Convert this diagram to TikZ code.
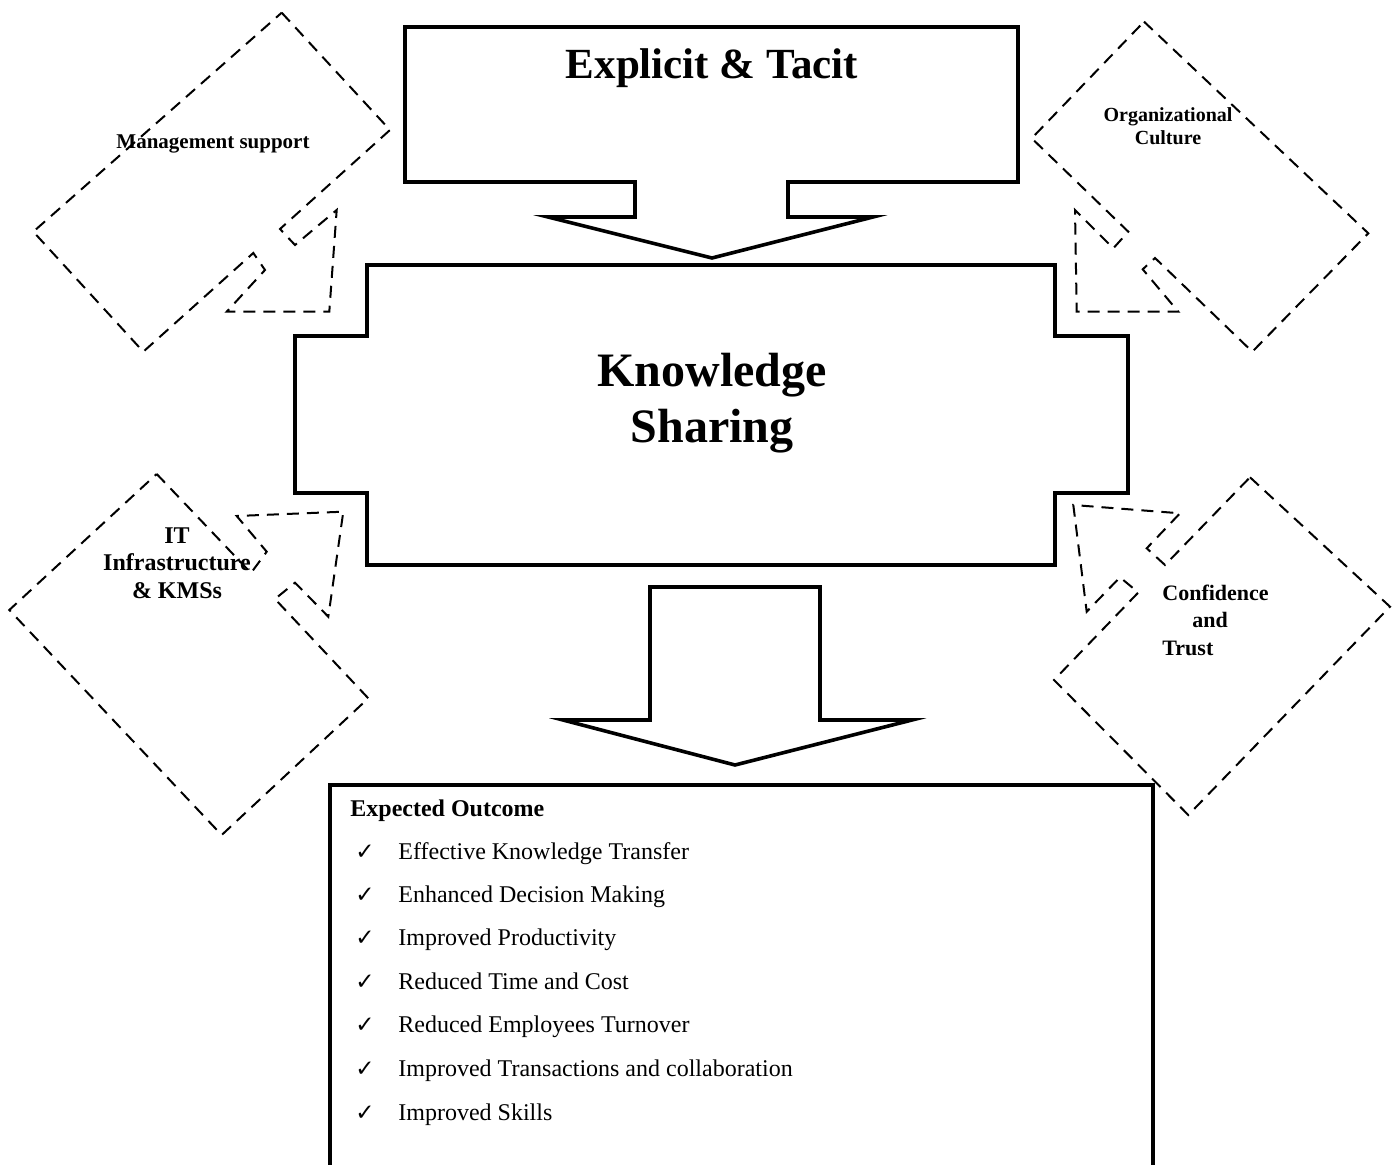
\documentclass[tikz,border=0pt]{standalone}
\usepackage{fontspec}
\setmainfont{Liberation Serif}
\newfontfamily\symfont{DejaVu Sans}

\begin{document}
\begin{tikzpicture}
    [x=0.5pt, y=-0.5pt,
    block/.style={draw, line width=1.8pt, line join=miter},
    callout/.style={draw, line width=1pt, dash pattern=on 6pt off 4pt},
    factor/.style={font=\bfseries, align=center, inner sep=0pt},
    outcome/.style={anchor=west, inner sep=0pt, text height=0.7em, text depth=0.22em,
        font=\fontsize{12}{14}\selectfont},
    tick/.style={anchor=west, inner sep=0pt, text height=0.7em, text depth=0.22em,
        font=\symfont\fontsize{11.5}{13}\selectfont}
    ]
    \useasboundingbox (0,0) rectangle (1397,1165);

    % input arrow
    \draw[block] (405,27) -- (1018,27) -- (1018,182) -- (788,182) -- (788,217) -- (873,217)
        -- (712,258) -- (548,217) -- (635,217) -- (635,182) -- (405,182) -- cycle;
    \node (input) [factor, font=\fontsize{21.5}{25}\selectfont\bfseries] at (712,68) {Explicit \& Tacit};

    % knowledge sharing
    \draw[block] (367,265) -- (1055,265) -- (1055,336) -- (1128,336) -- (1128,493) -- (1055,493)
        -- (1055,565) -- (367,565) -- (367,493) -- (295,493) -- (295,336) -- (367,336) -- cycle;
    \node (sharing) [factor, font=\fontsize{24}{28}\selectfont\bfseries] at (712,403) {Knowledge\\Sharing};

    % output arrow
    \draw[block] (650,587) -- (820,587) -- (820,720) -- (912,720) -- (735,765) -- (563,720)
        -- (650,720) -- cycle;

    % factors
    \draw[callout] (281.7,12.7) -- (390,130) -- (280,229) -- (295,245) -- (336.7,210) -- (329.3,311.7)
        -- (226.7,311.7) -- (265,270) -- (253.3,253) -- (143.3,351.7) -- (33.3,231.7) -- cycle;
    \node (management) [factor, font=\fontsize{10.5}{12}\selectfont\bfseries] at (213,144) {Management support};

    \draw[callout] (1144,21.7) -- (1368.3,233.3) -- (1252.3,351.7) -- (1155,258) -- (1142.7,269.3)
        -- (1178.3,311.7) -- (1076.7,311.7) -- (1075,210) -- (1113.3,248.3) -- (1128.3,231.7)
        -- (1031.7,138.3) -- cycle;
    \node (culture) [factor, font=\fontsize{10}{11.5}\selectfont\bfseries] at (1168,126) {Organizational\\Culture};

    \draw[callout] (156.7,474) -- (251,573) -- (266.7,551.7) -- (236.7,516) -- (343.3,511.7)
        -- (328.3,616.7) -- (295,582.7) -- (275,599) -- (368.3,698.3) -- (221.7,835)
        -- (9.3,610) -- cycle;
    \node (it) [factor, font=\fontsize{12}{13.8}\selectfont\bfseries] at (177,563) {IT\\Infrastructure\\\& KMSs};

    \draw[callout] (1250,477.3) -- (1390,606.7) -- (1188.3,815) -- (1054,680) -- (1138.3,592.5)
        -- (1120,577.3) -- (1086.7,611.7) -- (1073.3,505) -- (1180,513.3) -- (1146.7,548.3)
        -- (1165,565) -- cycle;
    \node (trust) [factor, anchor=west, align=left, font=\fontsize{11}{13.8}\selectfont\bfseries]
        at (1162,620) {Confidence\\\hspace{15pt}and\\Trust};

    % expected outcome
    \draw[block] (330,1165) -- (330,785) -- (1153,785) -- (1153,1165);
    \node (outcome) [outcome, font=\fontsize{12}{14}\selectfont\bfseries] at (350,812) {Expected Outcome};

    \node (tick1) [tick] at (355,855) {✓};
    \node (item1) [outcome] at (398,855) {Effective Knowledge Transfer};
    \node (tick2) [tick] at (355,898) {✓};
    \node (item2) [outcome] at (398,898) {Enhanced Decision Making};
    \node (tick3) [tick] at (355,941) {✓};
    \node (item3) [outcome] at (398,941) {Improved Productivity};
    \node (tick4) [tick] at (355,985) {✓};
    \node (item4) [outcome] at (398,985) {Reduced Time and Cost};
    \node (tick5) [tick] at (355,1028) {✓};
    \node (item5) [outcome] at (398,1028) {Reduced Employees Turnover};
    \node (tick6) [tick] at (355,1072) {✓};
    \node (item6) [outcome] at (398,1072) {Improved Transactions and collaboration};
    \node (tick7) [tick] at (355,1116) {✓};
    \node (item7) [outcome] at (398,1116) {Improved Skills};
\end{tikzpicture}
\end{document}
